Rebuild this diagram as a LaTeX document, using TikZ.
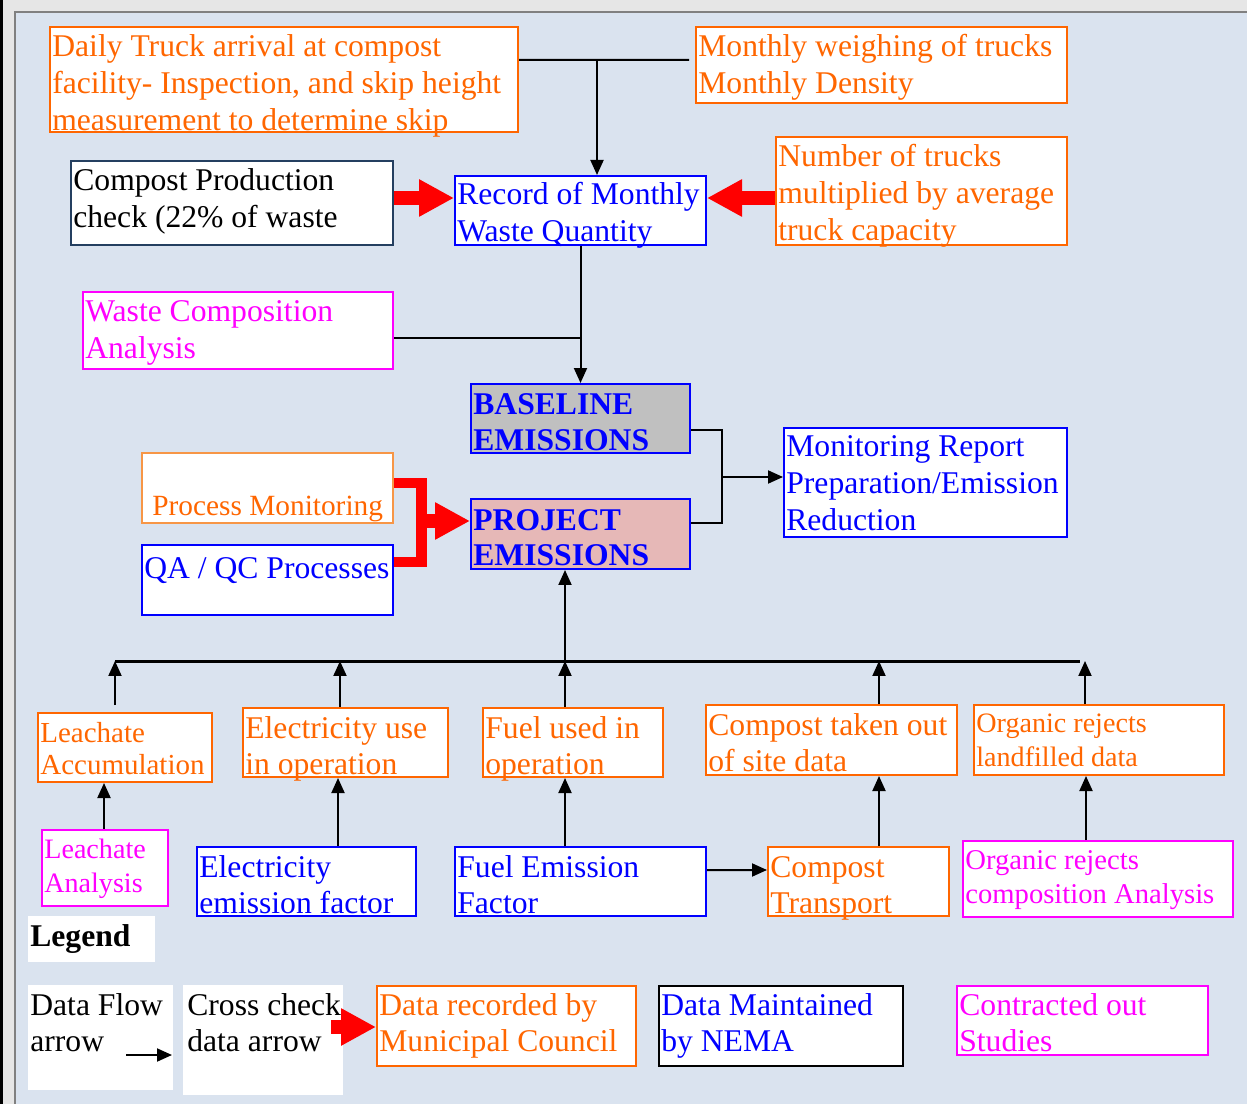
\documentclass[tikz,border=0pt]{standalone}
\usepackage{fontspec}
\setmainfont{Liberation Serif}
\usetikzlibrary{arrows.meta,calc,fit}
\definecolor{bgblue}{HTML}{DAE3EF}
\definecolor{frame}{HTML}{E6E6E6}
\definecolor{orng}{HTML}{FF6600}
\definecolor{lorng}{HTML}{F79646}
\definecolor{mgnt}{HTML}{FF00FF}
\definecolor{blu}{HTML}{0000FF}
\definecolor{navy}{HTML}{243F60}
\definecolor{gbox}{HTML}{C0C0C0}
\definecolor{pbox}{HTML}{E6B8B7}
\newcommand\tl[1]{\begin{tabular}[t]{@{}l@{}}#1\end{tabular}}
\tikzset{
  bx/.style={draw=#1, fill=white, line width=0.04cm, inner sep=0pt},
  txt/.style={inner sep=0pt, anchor=base west, text=#1, font=\fontsize{18}{21}\selectfont},
  stxt/.style={inner sep=0pt, anchor=base west, text=#1, font=\fontsize{16}{19.5}\selectfont},
  flow/.style={draw=black, line width=0.04cm, -{Triangle[length=0.3cm,width=0.26cm]}},
  plain/.style={draw=black, line width=0.04cm},
  bus/.style={draw=black, line width=0.06cm},
  redarrow/.style={draw=red, line width=0.27cm, -{Triangle[length=0.7cm,width=0.7cm]}},
}
\begin{document}
\begin{tikzpicture}[x=0.02cm,y=-0.02cm]
\useasboundingbox (0,0) rectangle (1247,1104);
\fill[frame] (0,0) rectangle (1247,1104);
\fill[black] (0,0) rectangle (3,1104);
\fill[bgblue] (15,12) rectangle (1247,1104);
\draw[gray, line width=0.04cm] (15,1104) -- (15,12) -- (1247,12);

% boxes
\node[bx=orng, fit={(50,27)(518,132)}] (daily) {};
\node[bx=orng, fit={(696,27)(1067,103)}] (mw) {};
\node[bx=navy, fit={(71,161)(393,245)}] (comp) {};
\node[bx=blu, fit={(455,176)(706,245)}] (rec) {};
\node[bx=orng, fit={(776,137)(1067,245)}] (num) {};
\node[bx=mgnt, fit={(83,292)(393,369)}] (wca) {};
\node[bx=blu, fill=gbox, fit={(471,384)(690,453)}] (base) {};
\node[bx=blu, fill=pbox, fit={(471,499)(690,569)}] (proj) {};
\node[bx=blu, fit={(784,428)(1067,537)}] (mon) {};
\node[bx=lorng, fit={(142,453)(393,523)}] (pm) {};
\node[bx=blu, fit={(142,545)(393,615)}] (qa) {};
\node[bx=orng, fit={(38,713)(212,782)}] (la) {};
\node[bx=orng, fit={(243,708)(448,777)}] (eu) {};
\node[bx=orng, fit={(483,708)(663,777)}] (fu) {};
\node[bx=orng, fit={(706,705)(957,775)}] (ct) {};
\node[bx=orng, fit={(974,705)(1224,775)}] (orl) {};
\node[bx=mgnt, fit={(42,830)(168,906)}] (lan) {};
\node[bx=blu, fit={(197,847)(416,916)}] (ef) {};
\node[bx=blu, fit={(455,847)(706,916)}] (fef) {};
\node[bx=orng, fit={(768,847)(949,916)}] (ctr) {};
\node[bx=mgnt, fit={(963,841)(1233,917)}] (orc) {};
% legend boxes
\node[fill=white, inner sep=0pt, fit={(28,916)(155,962)}] (leg) {};
\node[fill=white, inner sep=0pt, fit={(28,985)(173,1090)}] (ldf) {};
\node[fill=white, inner sep=0pt, fit={(183,985)(343,1095)}] (lcc) {};
\node[bx=orng, fit={(377,986)(636,1066)}] (ldr) {};
\node[bx=black, fit={(659,986)(903,1066)}] (ldm) {};
\node[bx=mgnt, fit={(957,986)(1208,1055)}] (lco) {};

% texts
\node[txt=orng] (tdaily) at (52,57) {\tl{Daily Truck arrival at compost\\facility- Inspection, and skip height\\measurement to determine skip}};
\node[txt=orng] (tmw) at (698,57) {\tl{Monthly weighing of trucks\\Monthly Density}};
\node[txt=black] (tcomp) at (73,191) {\tl{Compost Production\\check (22\% of waste}};
\node[txt=blu] (trec) at (457,205) {\tl{Record of Monthly\\Waste Quantity}};
\node[txt=orng] (tnum) at (778,167) {\tl{Number of trucks\\multiplied by average\\truck capacity}};
\node[txt=mgnt] (twca) at (85,322) {\tl{Waste Composition\\Analysis}};
\node[txt=blu, font=\fontsize{18}{20.3}\selectfont\bfseries] (tbase) at (473,415) {\tl{BASELINE\\EMISSIONS}};
\node[txt=blu, font=\fontsize{18}{20.3}\selectfont\bfseries] (tproj) at (473,530) {\tl{PROJECT\\EMISSIONS}};
\node[txt=blu] (tmon) at (786,457) {\tl{Monitoring Report\\Preparation/Emission\\Reduction}};
\node[txt=orng, font=\fontsize{16.7}{20}\selectfont] (tpm) at (152,516) {Process Monitoring};
\node[txt=blu] (tqa) at (144,578) {QA / QC Processes};
\node[stxt=orng, font=\fontsize{16.5}{18.7}\selectfont] (tla) at (40,742) {\tl{Leachate\\Accumulation}};
\node[txt=orng] (teu) at (245,738) {\tl{Electricity use\\in operation}};
\node[txt=orng] (tfu) at (485,738) {\tl{Fuel used in\\operation}};
\node[txt=orng] (tct) at (708,735) {\tl{Compost taken out\\of site data}};
\node[stxt=orng] (torl) at (976,732) {\tl{Organic rejects\\landfilled data}};
\node[stxt=mgnt] (tlan) at (44,858) {\tl{Leachate\\Analysis}};
\node[txt=blu] (tef) at (199,877) {\tl{Electricity\\emission factor}};
\node[txt=blu] (tfef) at (457,877) {\tl{Fuel Emission\\Factor}};
\node[txt=orng] (tctr) at (770,877) {\tl{Compost\\Transport}};
\node[stxt=mgnt, font=\fontsize{16.3}{19.5}\selectfont] (torc) at (965,869) {\tl{Organic rejects\\composition Analysis}};
\node[txt=black, font=\fontsize{18}{21}\selectfont\bfseries] (tleg) at (30,946) {Legend};
\node[txt=black] (tldf) at (30,1015) {\tl{Data Flow\\arrow}};
\node[txt=black] (tlcc) at (187,1015) {\tl{Cross check\\data arrow}};
\node[txt=orng] (tldr) at (379,1015) {\tl{Data recorded by\\Municipal Council}};
\node[txt=blu] (tldm) at (661,1015) {\tl{Data Maintained\\by NEMA}};
\node[txt=mgnt] (tlco) at (959,1015) {\tl{Contracted out\\Studies}};

% top connectors
\coordinate (j1) at (597,60);
\draw[plain] ($(daily.east)+(0,-19.5)$) -- ($(mw.west)+(-6,-5)$);
\draw[flow] (j1) -- (rec.north -| j1);
\draw[redarrow] ($(comp.east)+(0,-5)$) -- (rec.west |- 0,198);
\draw[redarrow] ($(num.west)+(0,7)$) -- (rec.east |- 0,198);
\draw[flow] (rec.south) -- (base.north);
\draw[plain] ($(wca.east)+(0,7.5)$) -- (rec.south |- 0,338);

% baseline / project to monitoring
\coordinate (jm) at (722,477);
\draw[plain] ($(base.east)+(0,11.5)$) -| (jm) |- ($(proj.east)+(0,-11)$);
\draw[flow] (jm) -- (mon.west |- jm);

% red bracket
\coordinate (brk) at (421,521);
\draw[red, line width=0.22cm] ($(pm.east)+(0,-5)$) -| (brk) |- ($(qa.east)+(0,-18)$);
\draw[redarrow] (brk) -- (proj.west |- brk);

% bus
\coordinate (busL) at (115,661);
\coordinate (busR) at (1080,661);
\coordinate (busC) at (565,661);
\draw[bus] (busL) -- (busR);
\draw[flow] (busC) -- (busC |- proj.south);
\draw[flow] (la.north -| 115,0) ++(0,-7) -- (busL);
\draw[flow] (eu.north -| 340,0) -- (busL -| 340,0);
\draw[flow] (fu.north -| 565,0) -- (busC);
\draw[flow] (ct.north -| 879,0) -- (busL -| 879,0);
\draw[flow] (orl.north -| 1085,0) -- (busL -| 1085,0);

% lower arrows
\draw[flow] (lan.north -| 104,0) -- (la.south -| 104,0);
\draw[flow] (ef.north -| 338,0) -- (eu.south -| 338,0);
\draw[flow] (fef.north -| 565,0) -- (fu.south -| 565,0);
\draw[flow] (ctr.north -| 879,0) -- (ct.south -| 879,0);
\draw[flow] (orc.north -| 1086,0) -- (orl.south -| 1086,0);
\draw[flow] ($(fef.east)+(0,-11.5)$) -- (ctr.west |- 0,870);

% legend arrows
\coordinate (lda) at (126,1055);
\coordinate (ldb) at (172,1055);
\draw[flow] (lda) -- (ldb);
\draw[redarrow] ($(ldr.west)+(-45,1)$) -- ($(ldr.west)+(0,1)$);
\end{tikzpicture}
\end{document}
